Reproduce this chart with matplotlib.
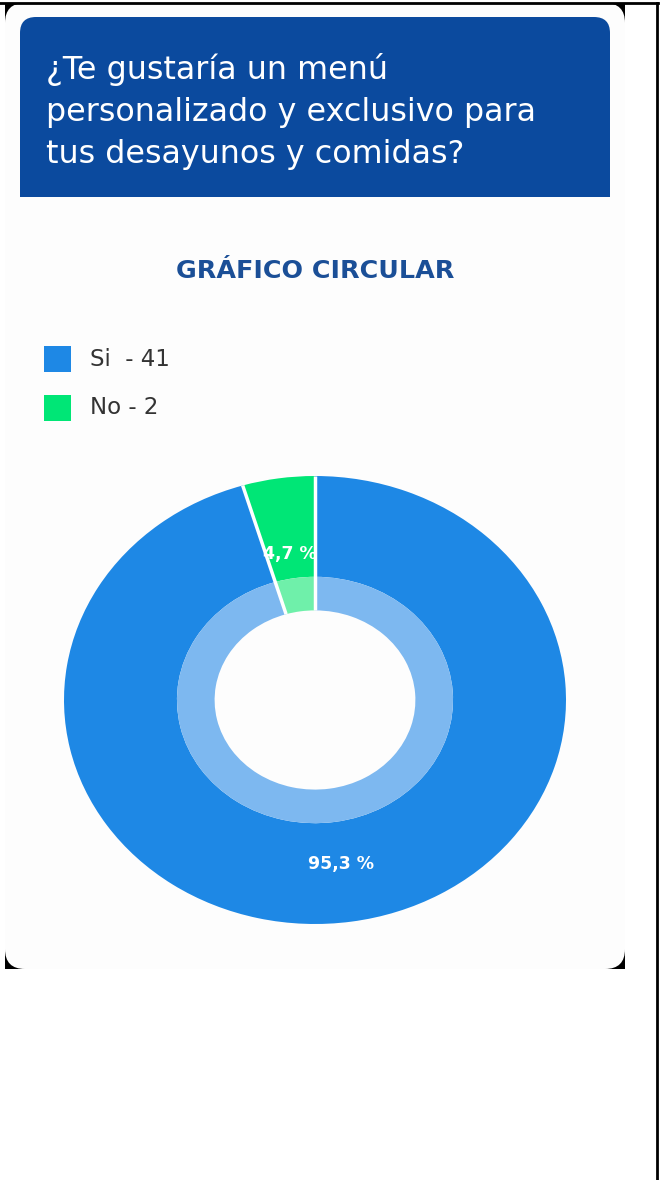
import numpy as np
import matplotlib
matplotlib.use("Agg")
import matplotlib.pyplot as plt
from matplotlib.patches import FancyBboxPatch, Rectangle

# data
question = ["¿Te gustaría un menú", "personalizado y exclusivo para", "tus desayunos y comidas?"]
chart_title = "GRÁFICO CIRCULAR"
names = ["Si ", "No"]
counts = [41, 2]
colors = ["#1e88e5", "#00e676"]
light_colors = ["#7db8f0", "#6ff0aa"]

plt.rcParams["font.family"] = ["DejaVu Sans"]

W, H = 661, 1180
fig = plt.figure(figsize=(W / 100, H / 100), dpi=100)
fig.patch.set_facecolor("white")

# page / card layer, in pixel coordinates
bg = fig.add_axes([0, 0, 1, 1])
bg.set_xlim(0, W)
bg.set_ylim(H, 0)
bg.axis("off")

bg.plot([0, 658], [3, 3], color="black", lw=2)
bg.plot([657, 657], [3, H], color="black", lw=2)
# black only shows in the rounded corners of the card
for x0, y0 in [(5, 3), (605, 3), (5, 949), (605, 949)]:
    bg.add_patch(Rectangle((x0, y0), 20, 20, color="black", lw=0))
bg.add_patch(FancyBboxPatch((5, 3), 620, 966, boxstyle="round,pad=0,rounding_size=20",
                            fc="#fdfdfd", ec="none"))

# header
hdr = "#0b4a9e"
bg.add_patch(FancyBboxPatch((20, 17), 590, 180, boxstyle="round,pad=0,rounding_size=16",
                            fc=hdr, ec="none"))
bg.add_patch(Rectangle((20, 100), 590, 97, fc=hdr, ec="none"))
for i, line in enumerate(question):
    bg.text(46, 79 + 42 * i, line, color="white", fontsize=22.9, va="baseline", ha="left")

bg.text(315, 278, chart_title, color="#1b4f97", fontsize=18.3, fontweight="bold",
        ha="center", va="baseline")

# legend
for i, (n, c) in enumerate(zip(names, counts)):
    y = 359 + 49 * i
    bg.add_patch(Rectangle((44, y - 13), 27, 26, fc=colors[i], ec="none"))
    bg.text(90, y, f"{n} - {c}", color="#333333", fontsize=16.5, va="center", ha="left")

# donut (screenshot is stretched horizontally, so the axes are not square)
cx, cy, rx, ry = 315, 700, 251, 224
ax = fig.add_axes([(cx - rx) / W, (H - cy - ry) / H, 2 * rx / W, 2 * ry / H])
ax.set_facecolor("none")

total = sum(counts)


def pct_label(p):
    return f"{p:.1f} %".replace(".", ",")


wedges, _, autotexts = ax.pie(counts, colors=colors, startangle=90, counterclock=False,
                              radius=1.0, wedgeprops=dict(width=0.45, linewidth=0),
                              autopct=pct_label, pctdistance=0.7)
for w, t in zip(wedges, autotexts):
    t.set_color("white")
    t.set_fontweight("bold")
    t.set_fontsize(12.5)
    t.set_va("top")
    t.set_clip_path(w)
ax.pie(counts, colors=light_colors, startangle=90, counterclock=False,
       radius=0.55, wedgeprops=dict(width=0.15, linewidth=0))

# white separators between slices
bounds = 90 - 360 * np.concatenate([[0], np.cumsum(counts)[:-1]]) / total
for a in np.deg2rad(bounds):
    ax.plot([0.40 * np.cos(a), np.cos(a)], [0.40 * np.sin(a), np.sin(a)],
            color="white", lw=2.5, solid_capstyle="butt")

ax.set_aspect("auto")
ax.set_xlim(-1, 1)
ax.set_ylim(-1, 1)
ax.axis("off")

fig.savefig("out.png", dpi=100, facecolor="white")
